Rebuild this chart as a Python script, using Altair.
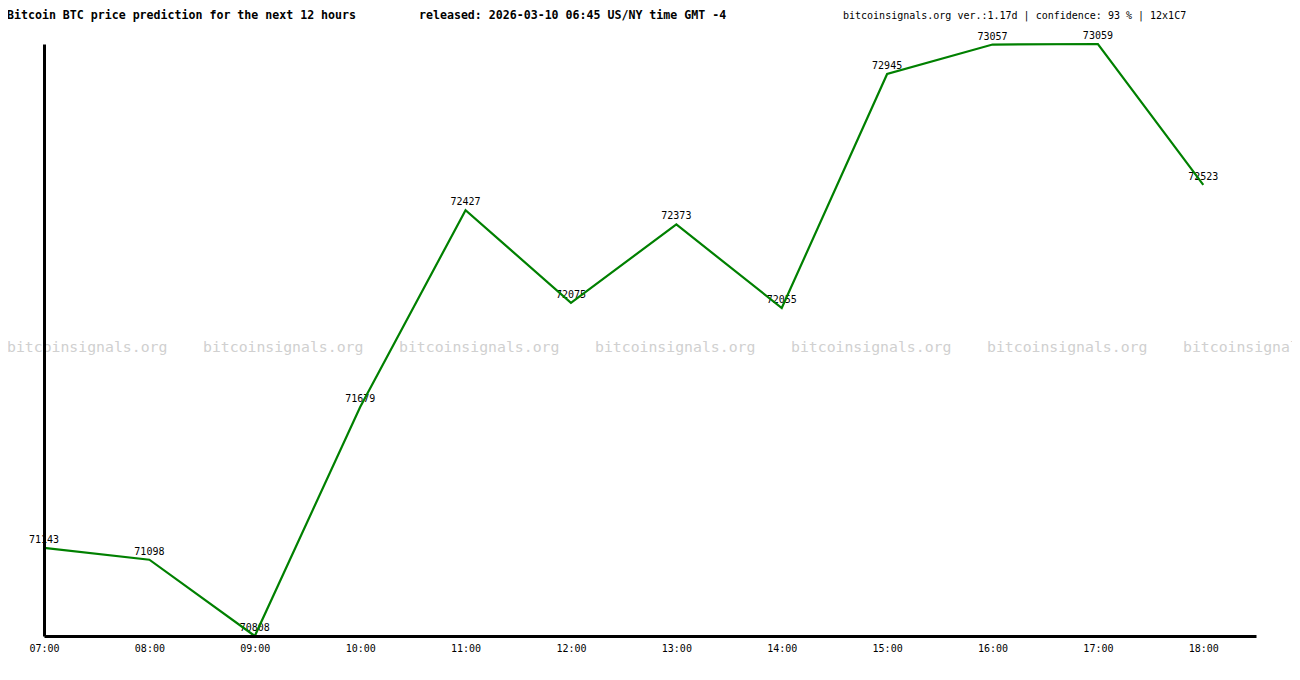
import json
import altair as alt
import pandas as pd

hours = ["07:00", "08:00", "09:00", "10:00", "11:00", "12:00",
         "13:00", "14:00", "15:00", "16:00", "17:00", "18:00"]
prices = [71143, 71098, 70808, 71679, 72427, 72075,
          72373, 72055, 72945, 73057, 73059, 72523]

title_left = "Bitcoin BTC price prediction for the next 12 hours"
title_mid = "released: 2026-03-10 06:45 US/NY time GMT -4"
title_right = "bitcoinsignals.org ver.:1.17d | confidence: 93 % | 12x1C7"
watermark = "bitcoinsignals.org"
watermark_count = 7

FONT = "DejaVu Sans Mono"
W, H = 1212, 592

df = pd.DataFrame({"i": list(range(len(hours))), "hour": hours, "price": prices})

label_expr = json.dumps(hours) + "[datum.value]"

x_enc = alt.X("i:Q", scale=alt.Scale(domain=[0, 11.5], nice=False, zero=False),
              axis=alt.Axis(values=list(range(len(hours))), labelExpr=label_expr,
                            title=None, ticks=False, grid=False, domainColor="black",
                            domainWidth=3, labelFont=FONT, labelFontSize=10,
                            labelColor="black", labelPadding=7, zindex=1,
                            labelFlush=False, labelOverlap=False))
y_enc = alt.Y("price:Q", scale=alt.Scale(domain=[min(prices), max(prices)], nice=False, zero=False),
              axis=alt.Axis(title=None, labels=False, ticks=False, grid=False,
                            domainColor="black", domainWidth=3, zindex=1))

base = alt.Chart(df)

line = base.mark_line(color="#008000", strokeWidth=2.2).encode(x=x_enc, y=y_enc)
labels = base.mark_text(font=FONT, fontSize=10, color="black", dy=-5,
                        baseline="alphabetic", align="center").encode(
    x=alt.X("i:Q"), y=alt.Y("price:Q"), text=alt.Text("price:Q", format="d"))

wm_df = pd.DataFrame({"k": list(range(watermark_count)), "t": [watermark] * watermark_count})
wm = alt.Chart(wm_df).transform_calculate(px="-37 + 196 * datum.k").mark_text(
    font=FONT, fontSize=14.8, color="#d0d0d0", align="left", baseline="middle").encode(
    x=alt.X("px:Q", scale=None), y=alt.value(304), text="t:N")

def header(txt, xpos, bold, size):
    return alt.Chart(pd.DataFrame({"t": [txt]})).mark_text(
        font=FONT, fontSize=size, fontWeight="bold" if bold else "normal",
        color="black", align="left", baseline="alphabetic").encode(
        x=alt.value(xpos), y=alt.value(-25.5), text="t:N")

h1 = header(title_left, -37, True, 11.6)
h2 = header(title_mid, 375, True, 11.6)
h3 = header(title_right, 799, False, 10)

chart = alt.layer(wm, labels, line, h1, h2, h3).resolve_scale(x="shared").properties(
    width=W, height=H,
    autosize=alt.AutoSizeParams(type="none"),
    padding={"left": 36, "top": 36, "right": 36, "bottom": 36},
    background="white",
).configure_view(stroke=None)

chart.save("out.html", embed_options={"renderer": "svg", "actions": False})
